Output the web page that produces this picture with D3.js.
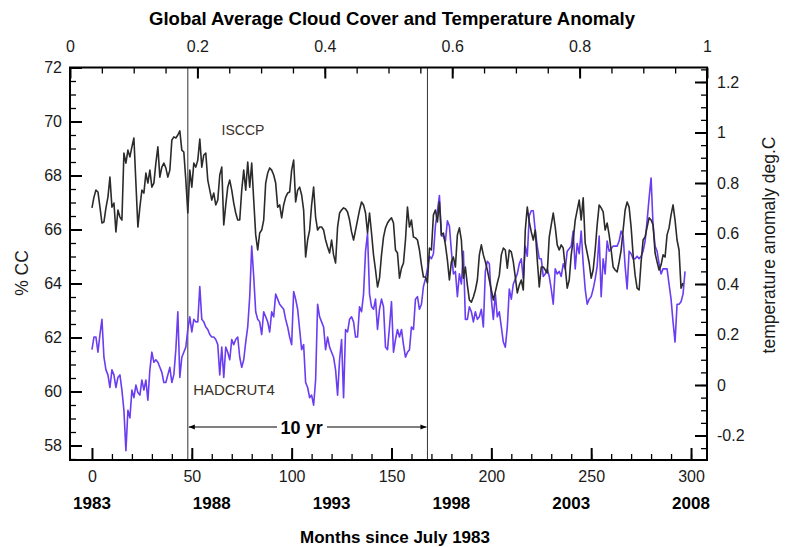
<!DOCTYPE html>
<html>
<head>
<meta charset="utf-8">
<script src="https://cdn.jsdelivr.net/npm/d3@7"></script>
<style>
body { margin: 0; background: #fff; }
text { font-family: "Liberation Sans", Arial, Helvetica, sans-serif; }
</style>
</head>
<body>
<div id="chart"></div>
<script>
// ISCCP global cloud cover (% CC), one value per month, index 0 = July 1983
var isccp = [
66.80, 67.20, 67.46, 67.39, 66.83, 66.24, 66.28, 66.80, 67.20, 67.94,
66.83, 66.98, 65.91, 66.72, 66.46, 66.35, 68.83, 68.46, 68.94, 68.69,
69.06, 69.39, 67.72, 66.09, 66.83, 67.46, 67.35, 68.09, 67.72, 68.20,
67.57, 67.72, 68.46, 69.06, 67.94, 68.31, 68.46, 68.28, 67.94, 68.20,
69.31, 69.43, 69.39, 69.50, 69.65, 68.94, 68.87, 67.83, 66.61, 68.20,
67.57, 68.46, 68.31, 68.57, 69.35, 68.31, 68.76, 68.83, 67.83, 67.46,
67.09, 67.35, 66.91, 67.09, 68.02, 68.31, 66.17, 66.91, 67.57, 67.83,
67.46, 66.98, 66.61, 66.35, 66.35, 67.46, 68.20, 67.46, 68.50, 67.57,
68.46, 67.09, 65.80, 65.24, 65.87, 65.98, 66.35, 67.72, 68.09, 68.28,
68.20, 68.02, 67.72, 66.83, 66.91, 66.43, 66.91, 67.20, 67.35, 67.39,
68.20, 68.57, 67.02, 67.46, 67.57, 67.28, 66.72, 64.98, 65.61, 65.98,
66.91, 67.57, 66.46, 65.98, 66.09, 66.09, 65.98, 65.61, 65.35, 65.13,
65.61, 65.06, 64.76, 66.09, 66.61, 66.72, 66.80, 66.76, 66.65, 66.35,
65.91, 65.61, 65.98, 66.35, 66.72, 67.02, 66.91, 66.61, 65.87, 66.61,
65.87, 65.06, 64.50, 63.87, 64.20, 65.06, 65.72, 66.06, 66.24, 66.35,
66.43, 66.24, 65.24, 65.13, 64.20, 64.57, 64.76, 65.61, 66.83, 66.09,
66.35, 65.72, 65.69, 65.61, 65.24, 64.69, 64.24, 64.24, 64.02, 65.31,
65.24, 66.54, 66.72, 66.28, 67.02, 65.80, 65.87, 65.43, 64.87, 64.13,
64.80, 64.98, 64.61, 65.80, 66.06, 65.61, 64.20, 64.61, 63.94, 63.39,
63.31, 63.50, 63.76, 64.13, 65.06, 65.43, 65.06, 64.80, 64.50, 64.13,
63.76, 63.39, 63.69, 64.02, 64.31, 65.06, 65.31, 65.24, 64.57, 65.24,
65.17, 64.80, 64.24, 63.65, 63.94, 64.13, 63.76, 65.98, 66.83, 66.28,
65.91, 65.61, 65.98, 64.87, 63.87, 64.61, 64.61, 64.50, 64.39, 65.72,
66.17, 66.61, 66.09, 65.43, 65.24, 65.43, 65.31, 64.61, 63.83, 64.13,
65.06, 65.61, 66.35, 66.72, 67.09, 66.35, 67.17, 65.50, 65.13, 64.76,
64.20, 64.50, 65.24, 66.17, 66.91, 66.80, 66.65, 65.98, 66.24, 65.80,
65.24, 64.61, 64.50, 64.43, 64.80, 65.24, 65.98, 66.72, 67.02, 66.83,
66.09, 65.06, 64.31, 63.83, 63.76, 64.80, 65.61, 65.72, 66.09, 66.43,
66.35, 66.17, 65.13, 64.80, 64.50, 64.69, 65.06, 64.98, 65.80, 66.06,
66.54, 66.91, 66.35, 65.61, 65.24, 63.83, 64.02
];

// HADCRUT4 temperature anomaly (deg C), same months
var hadcrut4 = [
0.14, 0.19, 0.19, 0.13, 0.20, 0.26, 0.11, 0.06, 0.04, -0.01,
0.06, 0.04, -0.01, 0.03, 0.04, -0.02, -0.10, -0.26, -0.10, -0.13,
-0.02, -0.05, 0.00, -0.03, -0.04, 0.02, -0.02, 0.02, -0.06, 0.06,
0.13, 0.09, 0.10, 0.09, 0.07, 0.05, 0.01, 0.01, 0.04, 0.07,
0.01, 0.04, 0.14, 0.29, 0.03, 0.11, 0.13, 0.15, 0.22, 0.27,
0.21, 0.26, 0.25, 0.25, 0.39, 0.26, 0.25, 0.23, 0.22, 0.20,
0.19, 0.19, 0.18, 0.16, 0.04, 0.15, 0.03, 0.15, 0.13, 0.10,
0.18, 0.16, 0.18, 0.19, 0.11, 0.07, 0.10, 0.17, 0.23, 0.35,
0.55, 0.43, 0.29, 0.26, 0.25, 0.20, 0.29, 0.27, 0.25, 0.21,
0.29, 0.27, 0.36, 0.34, 0.32, 0.31, 0.30, 0.26, 0.23, 0.19,
0.16, 0.37, 0.34, 0.30, 0.22, 0.14, 0.16, 0.01, -0.01, -0.05,
-0.04, -0.08, 0.02, 0.32, 0.27, 0.25, 0.23, 0.14, 0.19, 0.15,
0.13, 0.11, 0.06, -0.04, 0.10, 0.18, -0.05, 0.22, 0.21, 0.26,
0.27, 0.25, 0.19, 0.19, 0.31, 0.29, 0.36, 0.53, 0.60, 0.36,
0.31, 0.30, 0.34, 0.22, 0.30, 0.34, 0.31, 0.15, 0.14, 0.23,
0.33, 0.13, 0.18, 0.22, 0.19, 0.22, 0.16, 0.11, 0.13, 0.14,
0.23, 0.22, 0.34, 0.35, 0.30, 0.32, 0.39, 0.42, 0.46, 0.51,
0.50, 0.52, 0.63, 0.69, 0.75, 0.59, 0.59, 0.57, 0.65, 0.63,
0.53, 0.44, 0.45, 0.35, 0.44, 0.40, 0.53, 0.26, 0.26, 0.31,
0.29, 0.25, 0.29, 0.26, 0.27, 0.30, 0.23, 0.45, 0.49, 0.48,
0.34, 0.26, 0.36, 0.27, 0.29, 0.23, 0.17, 0.15, 0.23, 0.38,
0.34, 0.40, 0.42, 0.44, 0.48, 0.50, 0.42, 0.55, 0.51, 0.67,
0.69, 0.69, 0.61, 0.55, 0.50, 0.50, 0.43, 0.44, 0.46, 0.43,
0.38, 0.32, 0.46, 0.44, 0.45, 0.43, 0.48, 0.46, 0.53, 0.54,
0.55, 0.61, 0.46, 0.56, 0.52, 0.61, 0.48, 0.38, 0.32, 0.34,
0.35, 0.38, 0.42, 0.47, 0.59, 0.35, 0.50, 0.44, 0.57, 0.53,
0.54, 0.55, 0.55, 0.55, 0.57, 0.61, 0.59, 0.47, 0.38, 0.53,
0.52, 0.50, 0.50, 0.51, 0.50, 0.51, 0.53, 0.57, 0.65, 0.74,
0.82, 0.63, 0.55, 0.53, 0.48, 0.44, 0.46, 0.46, 0.46, 0.40,
0.34, 0.25, 0.17, 0.32, 0.32, 0.33, 0.36, 0.45
];

var monthTicks = [0, 50, 100, 150, 200, 250, 300];
var years = ["1983", "1988", "1993", "1998", "2003", "2008"];
var yearMonths = [0, 60, 120, 180, 240, 300];
var ccTicks = [58, 60, 62, 64, 66, 68, 70, 72];
var tempTicks = [-0.2, 0, 0.2, 0.4, 0.6, 0.8, 1, 1.2];
var fracTicks = [0, 0.2, 0.4, 0.6, 0.8, 1];
var spanMonths = [48, 168];   // the "10 yr" window

var W = 790, H = 547;
var plotL = 70, plotR = 707, plotT = 67.5, plotB = 460;

var svg = d3.select("#chart").append("svg")
    .attr("width", W)
    .attr("height", H);

var x = d3.scaleLinear().domain([-11, 308]).range([plotL, plotR]);
var xTop = d3.scaleLinear().domain([0, 1]).range([plotL, plotR]);
var yL = d3.scaleLinear().domain([57.463, 72]).range([plotB, plotT]);
var yR = d3.scaleLinear().domain([-0.297, 1.2574]).range([plotB, plotT]);

function tidy(g, w) {
    g.select(".domain").remove();
    g.selectAll(".tick line").attr("stroke", "#000").attr("stroke-width", w);
    g.selectAll(".tick text").attr("font-size", 16).attr("fill", "#1a1a1a")
        .style("font-family", "'Liberation Sans', Arial, sans-serif");
}

// minor ticks
svg.append("g").attr("transform", "translate(0," + plotB + ")")
    .call(d3.axisBottom(x).tickValues(d3.range(10, 301, 10)).tickSizeInner(-6).tickSizeOuter(0).tickFormat(""))
    .call(tidy, 1.3);
svg.append("g").attr("transform", "translate(0," + plotT + ")")
    .call(d3.axisTop(xTop).tickValues(d3.range(0.05, 1, 0.05)).tickSizeInner(-6).tickSizeOuter(0).tickFormat(""))
    .call(tidy, 1.3);
svg.append("g").attr("transform", "translate(" + plotL + ",0)")
    .call(d3.axisLeft(yL).tickValues(d3.range(57.5, 72, 0.5)).tickSizeInner(-6).tickSizeOuter(0).tickFormat(""))
    .call(tidy, 1.3);
svg.append("g").attr("transform", "translate(" + plotR + ",0)")
    .call(d3.axisRight(yR).tickValues(d3.range(-0.25, 1.26, 0.05)).tickSizeInner(-6).tickSizeOuter(0).tickFormat(""))
    .call(tidy, 1.3);

// major ticks + labels
svg.append("g").attr("transform", "translate(0," + plotB + ")")
    .call(d3.axisBottom(x).tickValues(monthTicks).tickSizeInner(-12).tickSizeOuter(0).tickPadding(11))
    .call(tidy, 2);
svg.append("g").attr("transform", "translate(0," + plotT + ")")
    .call(d3.axisTop(xTop).tickValues(fracTicks).tickSizeInner(-11).tickSizeOuter(0).tickPadding(16)
        .tickFormat(function(d) { return String(d); }))
    .call(tidy, 2);
svg.append("g").attr("transform", "translate(" + plotL + ",0)")
    .call(d3.axisLeft(yL).tickValues(ccTicks).tickSizeInner(-12).tickSizeOuter(0).tickPadding(8))
    .call(tidy, 2);
svg.append("g").attr("transform", "translate(" + plotR + ",0)")
    .call(d3.axisRight(yR).tickValues(tempTicks).tickSizeInner(-12).tickSizeOuter(0).tickPadding(10)
        .tickFormat(function(d) { return String(d); }))
    .call(tidy, 2);

// year labels
svg.selectAll(".year")
    .data(years)
    .enter()
    .append("text")
    .attr("class", "year")
    .attr("x", function(d, i) { return x(yearMonths[i]); })
    .attr("y", 509)
    .attr("text-anchor", "middle")
    .attr("font-size", 17)
    .attr("font-weight", "bold")
    .text(function(d) { return d; });

// 10 yr markers
svg.selectAll(".span")
    .data(spanMonths)
    .enter()
    .append("line")
    .attr("x1", function(d) { return x(d); })
    .attr("x2", function(d) { return x(d); })
    .attr("y1", plotT)
    .attr("y2", plotB)
    .attr("stroke", "#333")
    .attr("stroke-width", 1);

// lines
var lineT = d3.line().x(function(d, i) { return x(i); }).y(function(d) { return yR(d); });
var lineC = d3.line().x(function(d, i) { return x(i); }).y(function(d) { return yL(d); });

svg.append("path")
    .datum(hadcrut4)
    .attr("d", lineT)
    .attr("fill", "none")
    .attr("stroke", "#6a3cf2")
    .attr("stroke-width", 1.6)
    .attr("stroke-linejoin", "round");

svg.append("path")
    .datum(isccp)
    .attr("d", lineC)
    .attr("fill", "none")
    .attr("stroke", "#2b2b2b")
    .attr("stroke-width", 1.6)
    .attr("stroke-linejoin", "round");

// arrow
var defs = svg.append("defs");
defs.append("marker").attr("id", "ahead")
    .attr("viewBox", "0 0 10 10").attr("refX", 10).attr("refY", 5)
    .attr("markerWidth", 7).attr("markerHeight", 6).attr("orient", "auto")
    .attr("markerUnits", "userSpaceOnUse")
    .append("path").attr("d", "M0,1 L10,5 L0,9 Z").attr("fill", "#000");

var arrowY = 427;
svg.append("line")
    .attr("x1", 277).attr("x2", x(spanMonths[0]) + 1)
    .attr("y1", arrowY).attr("y2", arrowY)
    .attr("stroke", "#000").attr("stroke-width", 1)
    .attr("marker-end", "url(#ahead)");
svg.append("line")
    .attr("x1", 327).attr("x2", x(spanMonths[1]) - 1)
    .attr("y1", arrowY).attr("y2", arrowY)
    .attr("stroke", "#000").attr("stroke-width", 1)
    .attr("marker-end", "url(#ahead)");
svg.append("text")
    .attr("x", x(105)).attr("y", arrowY + 6.5)
    .attr("text-anchor", "middle")
    .attr("font-size", 18).attr("font-weight", "bold")
    .text("10 yr");

// series labels
svg.append("text").attr("x", 243).attr("y", 135)
    .attr("text-anchor", "middle").attr("font-size", 14).attr("fill", "#3a3028")
    .text("ISCCP");
svg.append("text").attr("x", 234).attr("y", 395)
    .attr("text-anchor", "middle").attr("font-size", 15).attr("fill", "#3a3028")
    .text("HADCRUT4");

// frame
svg.append("rect")
    .attr("x", plotL).attr("y", plotT)
    .attr("width", plotR - plotL).attr("height", plotB - plotT)
    .attr("fill", "none").attr("stroke", "#000").attr("stroke-width", 2);

// titles
svg.append("text").attr("x", 392).attr("y", 24.5)
    .attr("text-anchor", "middle").attr("font-size", 18.5).attr("font-weight", "bold")
    .text("Global Average Cloud Cover and Temperature Anomaly");
svg.append("text").attr("x", 395).attr("y", 543)
    .attr("text-anchor", "middle").attr("font-size", 17).attr("font-weight", "bold")
    .text("Months since July 1983");
svg.append("text").attr("transform", "translate(28,273) rotate(-90)")
    .attr("text-anchor", "middle").attr("font-size", 17.5).attr("fill", "#1a1a1a")
    .text("% CC");
svg.append("text").attr("transform", "translate(775,245) rotate(-90)")
    .attr("text-anchor", "middle").attr("font-size", 17.5).attr("fill", "#1a1a1a")
    .text("temperature anomaly deg.C");
</script>
</body>
</html>
